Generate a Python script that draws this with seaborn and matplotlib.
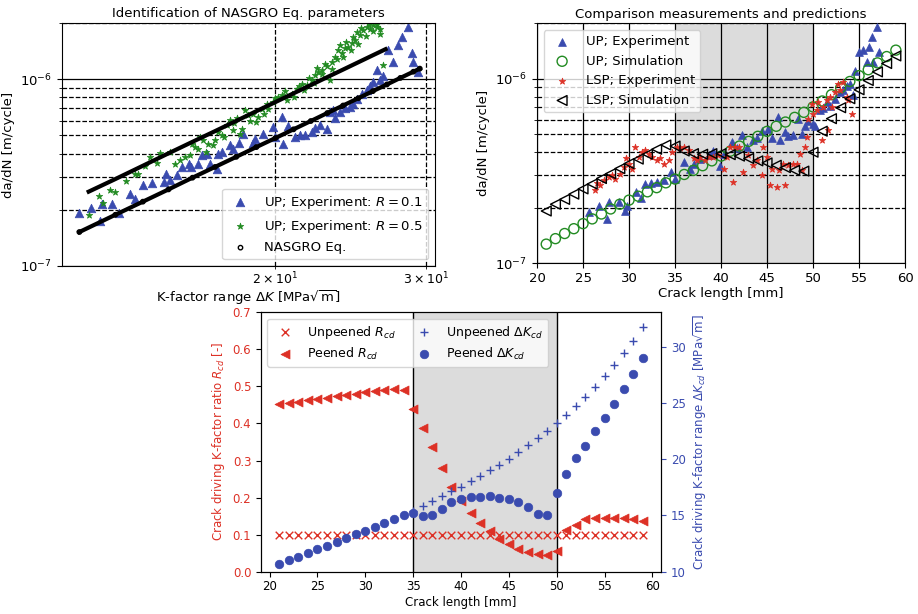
import numpy as np
import matplotlib
matplotlib.use("Agg")
import matplotlib.pyplot as plt
import seaborn as sns

plt.rcParams["font.family"] = ["DejaVu Sans"]
plt.rcParams["font.size"] = 9.5

blue = "#3a4baf"
red = "#dd3126"
green = "#228b22"
shade = "#dcdcdc"
scale = 1e-7  # da/dN values below are given in units of 1e-7 m/cycle

# ---- top left: NASGRO identification ----
dk_up01 = [11.80, 12.17, 12.48, 12.53, 12.88, 13.12, 13.53, 13.71, 14.02, 14.34, 14.80, 14.90,
           15.06, 15.34, 15.55, 15.83, 15.94, 16.26, 16.40, 16.62, 16.77, 17.08, 17.15, 17.31,
           17.70, 17.86, 18.11, 18.35, 18.85, 18.93, 19.37, 19.86, 19.98, 20.34, 20.40, 20.71,
           21.09, 21.37, 21.66, 22.05, 22.25, 22.55, 22.96, 23.17, 23.38, 23.48, 23.80, 24.13,
           24.45, 24.67, 24.89, 25.23, 25.57, 25.80, 26.04, 26.27, 26.51, 26.75, 27.10, 27.47,
           27.84, 28.09, 28.60, 28.86, 28.99, 29.38]
dadn_up01 = [1.91, 2.05, 1.74, 2.14, 2.14, 1.93, 2.44, 2.27, 2.73, 2.78, 2.82, 3.12,
             2.88, 3.06, 3.39, 3.53, 3.39, 3.53, 3.92, 4.00, 3.53, 3.32, 4.00, 4.08,
             4.43, 4.25, 4.56, 5.07, 4.56, 4.81, 5.11, 5.55, 4.91, 6.28, 4.48, 5.60,
             4.91, 5.01, 5.01, 5.22, 5.51, 5.67, 5.44, 6.68, 6.82, 6.16, 6.68, 7.05,
             7.11, 7.41, 7.88, 8.38, 8.73, 9.17, 9.68, 11.17, 9.88, 10.38, 14.30, 12.39,
             15.21, 16.86, 18.92, 13.73, 12.39, 10.95]

dk_up05 = [12.12, 12.45, 12.59, 12.82, 12.99, 13.38, 13.71, 13.83, 14.08, 14.27, 14.53, 14.66,
           15.06, 15.27, 15.48, 15.69, 15.90, 16.11, 16.26, 16.33, 16.48, 16.70, 16.93, 17.15,
           17.31, 17.55, 17.70, 17.86, 18.02, 18.27, 18.43, 18.60, 18.85, 19.11, 19.28, 19.54,
           19.89, 20.16, 20.34, 20.62, 20.90, 21.18, 21.47, 21.76, 22.05, 22.25, 22.45, 22.65,
           22.86, 23.17, 23.27, 23.48, 23.69, 23.91, 24.13, 24.34, 24.56, 24.67, 24.89, 25.12,
           25.35, 25.57, 25.80, 26.04, 26.27, 26.51, 26.70,
           16.00, 16.60, 17.00, 17.40, 17.90, 18.20, 18.70, 19.00, 19.40, 19.60, 20.00, 20.50,
           21.00, 21.30, 21.60, 21.90, 22.20, 22.40, 22.70, 23.00, 23.30, 23.60, 23.80, 24.00,
           24.20, 24.50, 24.80, 25.00, 25.20, 25.50, 25.70, 26.00, 26.30, 26.50]
dadn_up05 = [1.87, 2.36, 2.18, 2.56, 2.49, 2.85, 3.10, 3.12, 3.42, 3.84, 3.56, 4.03,
             4.08, 3.53, 3.68, 3.84, 3.92, 4.34, 4.25, 4.91, 4.75, 4.52, 4.43, 5.22,
             5.01, 5.67, 6.03, 5.33, 6.16, 5.44, 6.82, 6.41, 6.55, 6.28, 6.96, 7.41,
             7.56, 8.04, 8.21, 7.72, 8.38, 8.91, 9.48, 9.29, 9.88, 10.51, 10.95, 11.17,
             12.13, 9.88, 12.39, 13.17, 14.30, 13.73, 14.60, 14.90, 15.53, 16.86, 17.93, 17.21,
             18.30, 19.07, 18.68, 19.47, 19.07, 17.56, 11.89,
             4.50, 4.10, 4.70, 4.90, 5.80, 5.10, 6.00, 5.90, 6.50, 6.90, 7.90, 8.60,
             8.00, 9.20, 8.70, 10.20, 9.60, 11.50, 10.60, 11.80, 11.30, 12.80, 15.20, 13.20,
             15.80, 14.40, 16.30, 15.40, 18.70, 17.00, 19.80, 18.20, 19.80, 18.50]

dk_nas05 = [12.1, 13, 14, 15, 16, 17, 18, 19, 20, 21, 22, 23, 24, 25, 26, 26.9]
dadn_nas05 = [2.50, 2.92, 3.44, 4.01, 4.62, 5.27, 5.98, 6.74, 7.54, 8.40, 9.30, 10.26,
              11.26, 12.32, 13.43, 14.47]
dk_nas01 = [11.8, 13, 14, 15, 16, 17, 18, 19, 20, 21, 22, 23, 24, 25, 26, 27, 28, 29, 29.5]
dadn_nas01 = [1.52, 1.88, 2.21, 2.57, 2.97, 3.39, 3.84, 4.33, 4.84, 5.39, 5.97, 6.59,
              7.23, 7.91, 8.63, 9.37, 10.16, 10.97, 11.39]

# ---- top right: measurements vs. predictions ----
crack = [21, 22, 23, 24, 25, 26, 27, 28, 29, 30, 31, 32, 33, 34, 35, 36, 37, 38, 39, 40,
         41, 42, 43, 44, 45, 46, 47, 48, 49, 50, 51, 52, 53, 54, 55, 56, 57, 58, 59]
up_sim = [1.27, 1.36, 1.45, 1.54, 1.64, 1.74, 1.85, 1.97, 2.09, 2.20, 2.31, 2.44, 2.57, 2.73,
          2.86, 3.03, 3.19, 3.38, 3.59, 3.81, 4.05, 4.32, 4.58, 4.88, 5.19, 5.53, 5.83, 6.18,
          6.58, 7.04, 7.58, 8.20, 8.94, 9.67, 10.4, 11.2, 12.2, 13.2, 14.3]
lsp_sim = [1.92, 2.09, 2.22, 2.37, 2.53, 2.69, 2.88, 3.06, 3.26, 3.47, 3.67, 3.90, 4.15, 4.38,
           4.32, 4.06, 3.93, 3.90, 3.93, 3.93, 3.88, 3.81, 3.70, 3.59, 3.50, 3.40, 3.30, 3.19,
           3.16, 4.00, 5.20, 6.08, 6.97, 7.80, 8.72, 9.79, 10.9, 12.1, 13.3]

a_up_exp = [25.65, 26.73, 27.60, 27.85, 28.87, 29.52, 29.77, 30.79, 31.33, 31.69, 32.38, 33.03,
            33.83, 34.55, 35.02, 36.00, 36.65, 37.01, 37.66, 38.64, 39.18, 39.91, 40.27, 41.17,
            41.72, 42.26, 42.80, 43.45, 43.89, 44.43, 45.15, 45.52, 46.24, 46.42, 46.96, 47.33,
            47.87, 48.41, 48.77, 49.13, 49.50, 49.97, 50.22, 50.76, 51.13, 51.49, 51.85, 52.39,
            52.93, 53.30, 53.66, 54.02, 54.31, 54.56, 55.03, 55.47, 55.83, 56.12, 56.37, 56.55,
            56.92, 57.21]
up_exp = [1.90, 2.04, 1.74, 2.15, 2.15, 1.92, 2.04, 2.44, 2.27, 2.68, 2.71, 2.76,
          2.82, 3.13, 2.86, 3.55, 3.26, 3.47, 3.66, 3.88, 4.06, 3.36, 3.93, 4.55,
          4.19, 4.94, 4.27, 4.64, 4.78, 5.21, 5.37, 4.80, 6.21, 4.64, 5.15, 4.88,
          4.94, 6.08, 5.05, 5.52, 5.90, 5.71, 5.52, 6.74, 6.97, 7.48, 7.08, 7.80,
          8.47, 8.73, 9.10, 9.40, 8.13, 11.0, 13.9, 14.4, 12.3, 14.8, 16.8, 12.3,
          19.0, 13.9]

a_lsp_exp = [26.33, 26.51, 26.88, 27.24, 27.78, 28.14, 28.51, 29.05, 29.41, 29.70, 29.95, 30.31,
             30.68, 31.04, 31.40, 31.76, 32.12, 32.49, 33.03, 33.39, 33.75, 34.30, 34.66, 35.20,
             35.56, 35.92, 36.47, 37.01, 37.37, 37.73, 38.28, 38.64, 39.18, 39.72, 40.27, 40.63,
             40.99, 41.35, 41.53, 41.90, 42.44, 42.98, 43.45, 43.89, 44.43, 44.61, 44.97, 45.33,
             45.52, 46.06, 46.35, 46.78, 46.96, 47.33, 47.87, 48.23, 48.59, 48.77, 49.13, 49.32,
             49.50, 49.86, 50.04, 50.40, 50.58, 50.94, 51.13, 51.49, 51.67, 51.85, 52.03, 52.39,
             52.75, 52.93, 53.30, 53.66, 53.84, 54.20]
lsp_exp = [2.49, 2.73, 2.65, 2.82, 2.94, 3.00, 2.88, 3.06, 3.33, 3.70, 3.47, 3.26,
           4.27, 3.77, 4.01, 4.10, 3.93, 3.77, 3.62, 3.70, 3.47, 3.65, 4.01, 4.27,
           4.19, 4.27, 4.10, 3.70, 3.62, 3.77, 3.62, 3.77, 3.77, 3.85, 3.26, 3.77,
           4.27, 2.76, 4.27, 4.27, 3.13, 3.85, 3.40, 3.62, 3.00, 4.27, 3.77, 2.65,
           3.26, 2.60, 3.20, 3.47, 2.65, 3.40, 3.47, 3.47, 3.90, 3.20, 4.27, 4.84,
           6.08, 7.33, 6.47, 6.74, 7.48, 4.64, 7.03, 7.64, 5.26, 7.96, 7.03, 8.47,
           9.40, 8.65, 9.59, 7.96, 7.64, 6.47]

# ---- bottom: crack driving quantities ----
r_unpeened = [0.1, 0.1, 0.1, 0.1, 0.1, 0.1, 0.1, 0.1, 0.1, 0.1, 0.1, 0.1, 0.1,
              0.1, 0.1, 0.1, 0.1, 0.1, 0.1, 0.1, 0.1, 0.1, 0.1, 0.1, 0.1, 0.1,
              0.1, 0.1, 0.1, 0.1, 0.1, 0.1, 0.1, 0.1, 0.1, 0.1, 0.1, 0.1, 0.1]
r_peened = [0.452, 0.454, 0.458, 0.462, 0.465, 0.470, 0.473, 0.477, 0.480, 0.484, 0.488, 0.491,
            0.494, 0.489, 0.438, 0.389, 0.337, 0.280, 0.229, 0.191, 0.159, 0.131, 0.109, 0.089,
            0.075, 0.062, 0.052, 0.048, 0.046, 0.056, 0.113, 0.125, 0.142, 0.144, 0.146, 0.146,
            0.144, 0.141, 0.138]
dk_unpeened = [10.71, 11.04, 11.33, 11.69, 11.99, 12.31, 12.67, 12.97, 13.32, 13.64, 14.00, 14.33,
               14.68, 15.04, 15.40, 15.84, 16.28, 16.73, 17.17, 17.56, 18.03, 18.48, 19.01, 19.48,
               20.02, 20.64, 21.23, 21.88, 22.53, 23.22, 23.96, 24.76, 25.56, 26.44, 27.40, 28.37,
               29.41, 30.53, 31.72]
dk_peened = [10.71, 11.04, 11.33, 11.69, 11.99, 12.31, 12.67, 12.97, 13.32, 13.64, 14.00, 14.33,
             14.68, 15.04, 15.24, 14.95, 15.07, 15.57, 16.17, 16.43, 16.61, 16.67, 16.70, 16.58,
             16.43, 16.20, 15.72, 15.13, 15.01, 16.97, 18.66, 20.08, 21.20, 22.48, 23.63, 24.90,
             26.21, 27.60, 29.02]

peened_zone = (35, 50)


def grid_lines(ax):
    ax.set_axisbelow(True)
    ax.grid(True, which="major", color="k", ls="-", lw=0.9)
    ax.grid(True, which="minor", color="k", ls="--", lw=0.9)


fig = plt.figure(figsize=(9.18, 6.14), dpi=100)

# top left
ax1 = fig.add_axes([0.0675, 0.5668, 0.4063, 0.3958])
ax1.set_xscale("log")
ax1.set_yscale("log")
sns.scatterplot(x=dk_up01, y=np.array(dadn_up01) * scale, ax=ax1, marker="^", s=38,
                color=blue, edgecolor=blue, linewidth=0.5, label="UP; Experiment: $R = 0.1$")
sns.scatterplot(x=dk_up05, y=np.array(dadn_up05) * scale, ax=ax1, marker="*", s=24,
                color=green, edgecolor=green, linewidth=0.5, label="UP; Experiment: $R = 0.5$")
for dk, da in [(dk_nas05, dadn_nas05), (dk_nas01, dadn_nas01)]:
    sns.lineplot(x=dk, y=np.array(da) * scale, ax=ax1, color="k", lw=3.0, zorder=3,
                 sort=False, estimator=None)
sns.scatterplot(x=dk_nas01, y=np.array(dadn_nas01) * scale, ax=ax1, marker="o", s=10,
                color="k", facecolor="none", edgecolor="k", linewidth=1, zorder=4,
                label="NASGRO Eq.")
ax1.set_xlim(11.26, 30.73)
ax1.set_ylim(1e-7, 2e-6)
grid_lines(ax1)
ax1.tick_params(axis="x", which="both", pad=1.5, labelsize=9)
ax1.set_title("Identification of NASGRO Eq. parameters", fontsize=9.5, pad=4)
ax1.set_xlabel(r"K-factor range $\Delta K$ [MPa$\sqrt{\rm m}$]")
ax1.xaxis.set_label_coords(0.5, -0.093)
ax1.set_ylabel("da/dN [m/cycle]")
ax1.legend(loc="lower right", fontsize=9.5)

# top right
ax2 = fig.add_axes([0.585, 0.5712, 0.4009, 0.3909])
ax2.set_yscale("log")
ax2.axvspan(*peened_zone, color=shade, zorder=0, lw=0)
sns.scatterplot(x=a_up_exp, y=np.array(up_exp) * scale, ax=ax2, marker="^", s=32,
                color=blue, edgecolor=blue, linewidth=0.5, label="UP; Experiment", zorder=3)
sns.scatterplot(x=crack, y=np.array(up_sim) * scale, ax=ax2, marker="o", s=52,
                color=green, facecolor="none", edgecolor=green, linewidth=1,
                label="UP; Simulation", zorder=3)
sns.scatterplot(x=a_lsp_exp, y=np.array(lsp_exp) * scale, ax=ax2, marker="*", s=24,
                color=red, edgecolor=red, linewidth=0.5, label="LSP; Experiment", zorder=3)
sns.scatterplot(x=crack, y=np.array(lsp_sim) * scale, ax=ax2, marker="<", s=50,
                color="k", facecolor="none", edgecolor="k", linewidth=1,
                label="LSP; Simulation", zorder=3)
ax2.set_xlim(20, 60)
ax2.set_ylim(1e-7, 2e-6)
grid_lines(ax2)
ax2.tick_params(axis="x", pad=2.5)
ax2.set_title("Comparison measurements and predictions", fontsize=9.5, pad=4)
ax2.set_xlabel("Crack length [mm]", labelpad=2)
ax2.set_ylabel("da/dN [m/cycle]")
ax2.legend(loc="upper left", fontsize=9.5)

# bottom
small = 8.5
ax3 = fig.add_axes([0.2843, 0.0689, 0.4357, 0.4225])
ax3.axvspan(*peened_zone, color=shade, zorder=0, lw=0)
for xv in peened_zone:
    ax3.axvline(xv, color="k", lw=1, zorder=1)
sns.scatterplot(x=crack, y=r_unpeened, ax=ax3, marker="x", s=30, color=red, linewidth=1,
                label="Unpeened $R_{cd}$", zorder=3)
sns.scatterplot(x=crack, y=r_peened, ax=ax3, marker="<", s=42, color=red, edgecolor=red,
                linewidth=0.5, label="Peened $R_{cd}$", zorder=3)
ax3.set_xlim(19.1, 60.9)
ax3.set_ylim(0, 0.7)
ax3.set_xlabel("Crack length [mm]", fontsize=small, labelpad=2)
ax3.set_ylabel("Crack driving K-factor ratio $R_{cd}$ [-]", color=red, fontsize=small)
ax3.tick_params(axis="x", labelsize=small, pad=2.5)
ax3.tick_params(axis="y", labelcolor=red, labelsize=small)

ax3r = ax3.twinx()
sns.scatterplot(x=crack, y=dk_unpeened, ax=ax3r, marker="+", s=30, color=blue, linewidth=1,
                label=r"Unpeened $\Delta K_{cd}$", zorder=3)
sns.scatterplot(x=crack, y=dk_peened, ax=ax3r, marker="o", s=38, color=blue, edgecolor=blue,
                linewidth=0.5, label=r"Peened $\Delta K_{cd}$", zorder=3)
ax3r.set_ylim(10, 33.05)
ax3r.set_ylabel(r"Crack driving K-factor range $\Delta K_{cd}$ [MPa$\sqrt{\rm m}$]",
                color=blue, fontsize=small)
ax3r.tick_params(axis="y", colors=blue, labelsize=small)

h1, l1 = ax3.get_legend_handles_labels()
h2, l2 = ax3r.get_legend_handles_labels()
if ax3.get_legend() is not None:
    ax3.get_legend().remove()
ax3r.legend(h1 + h2, l1 + l2, loc="upper left", ncol=2, fontsize=9,
            labelspacing=0.4, columnspacing=1.2)

fig.savefig("out.png", dpi=100)
